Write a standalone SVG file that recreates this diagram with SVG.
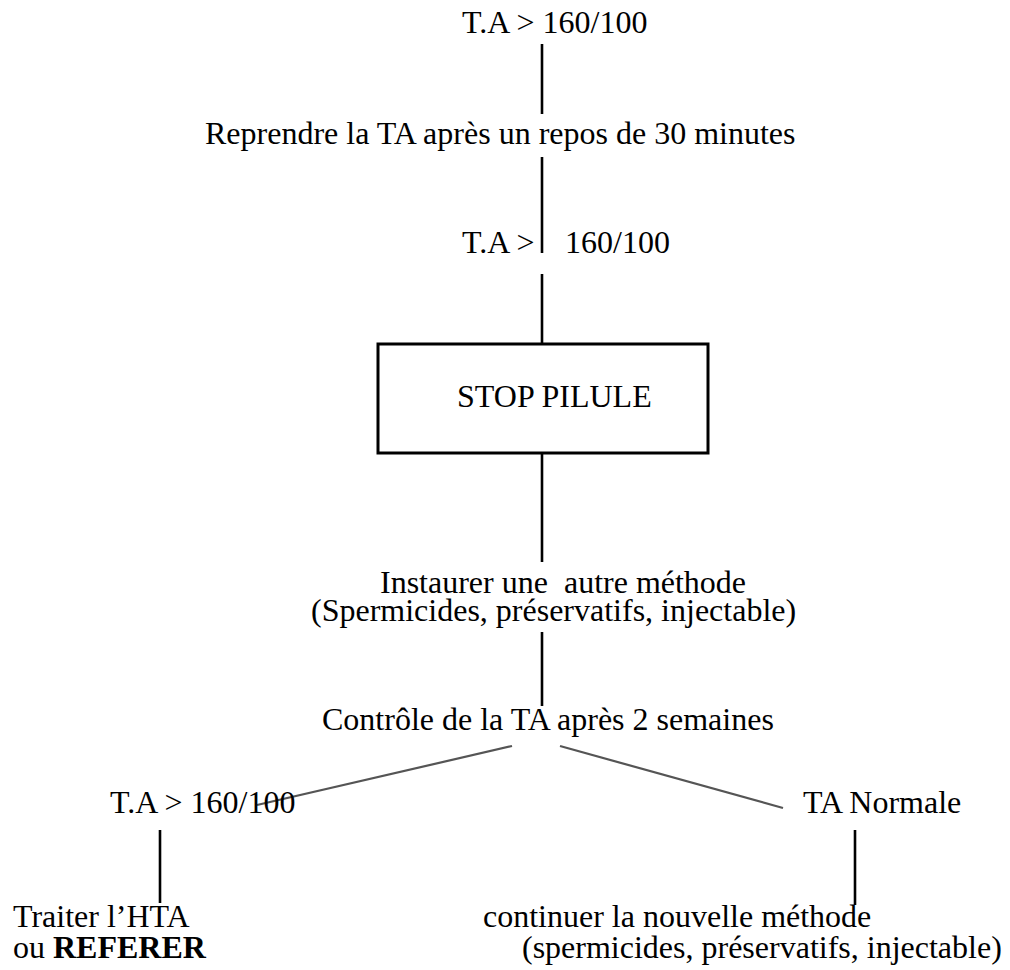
<svg xmlns="http://www.w3.org/2000/svg" width="1010" height="970" viewBox="0 0 1010 970">
  <style>
    text { font-family: "Liberation Serif", "Times New Roman", serif; font-size: 32px; fill: #000; }
    .b { font-weight: bold; }
    .v { stroke: #000; stroke-width: 2.6; fill: none; }
    .d { stroke: #555; stroke-width: 2.2; fill: none; }
    .box { stroke: #000; stroke-width: 3; fill: #fff; }
  </style>
  <rect width="1010" height="970" fill="#fff"/>

  <g id="connectors">
    <line class="v" x1="542" y1="44" x2="542" y2="114"/>
    <line class="v" x1="542" y1="157" x2="542" y2="253"/>
    <line class="v" x1="542" y1="274" x2="542" y2="344"/>
    <line class="v" x1="542" y1="453" x2="542" y2="562"/>
    <line class="v" x1="542" y1="632" x2="542" y2="706"/>
    <line class="d" x1="512" y1="746" x2="257" y2="805"/>
    <line class="d" x1="560" y1="746" x2="783" y2="808"/>
    <line class="v" x1="160" y1="830" x2="160" y2="903"/>
    <line class="v" x1="855" y1="830" x2="855" y2="905"/>
  </g>

  <g id="n1"><text x="462" y="33">T.A &gt; 160/100</text></g>
  <g id="n2"><text x="205" y="144">Reprendre la TA après un repos de 30 minutes</text></g>
  <g id="n3"><text x="462" y="253">T.A &gt;</text><text x="565" y="253">160/100</text></g>
  <g id="n4">
    <rect class="box" x="378" y="344" width="330" height="109"/>
    <text x="457" y="407">STOP PILULE</text>
  </g>
  <g id="n5">
    <text x="380" y="593" xml:space="preserve">Instaurer une  autre méthode</text>
    <text x="311" y="621">(Spermicides, préservatifs, injectable)</text>
  </g>
  <g id="n6"><text x="322" y="730">Contrôle de la TA après 2 semaines</text></g>
  <g id="n7"><text x="110" y="813">T.A &gt; 160/100</text></g>
  <g id="n8"><text x="803" y="813">TA Normale</text></g>
  <g id="n9">
    <text x="13" y="927">Traiter l’HTA</text>
    <text x="13" y="958">ou <tspan class="b">REFERER</tspan></text>
  </g>
  <g id="n10">
    <text x="483" y="927">continuer la nouvelle méthode</text>
    <text x="522" y="958">(spermicides, préservatifs, injectable)</text>
  </g>
</svg>
